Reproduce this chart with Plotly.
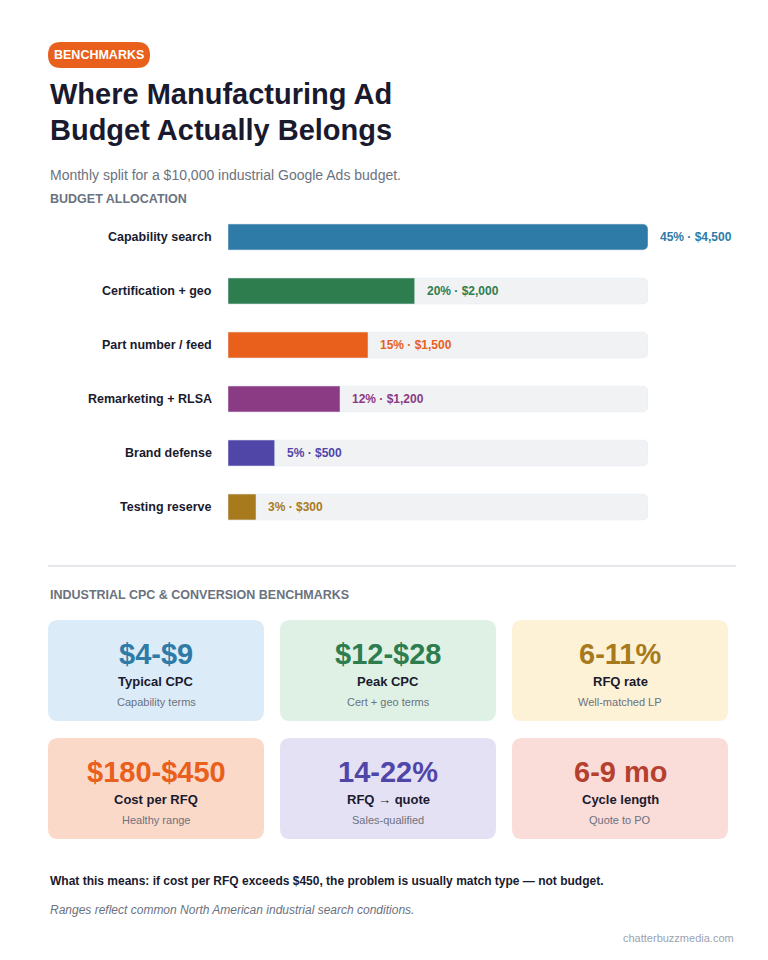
import plotly.graph_objects as go

categories = ["Capability search", "Certification + geo", "Part number / feed",
              "Remarketing + RLSA", "Brand defense", "Testing reserve"]
shares = [45, 20, 15, 12, 5, 3]
dollars = [4500, 2000, 1500, 1200, 500, 300]
bar_colors = ["#2d7ba6", "#2e7d4f", "#e8601c", "#8b3a84", "#5046a8", "#a87a1e"]

card_values = ["$4-$9", "$12-$28", "6-11%", "$180-$450", "14-22%", "6-9 mo"]
card_labels = ["Typical CPC", "Peak CPC", "RFQ rate", "Cost per RFQ", "RFQ → quote", "Cycle length"]
card_subs = ["Capability terms", "Cert + geo terms", "Well-matched LP", "Healthy range", "Sales-qualified", "Quote to PO"]
card_fg = ["#2d7ba6", "#2e7d4f", "#a87a1e", "#e8601c", "#5046a8", "#b5402e"]
card_bg = ["#dcebf8", "#dff1e5", "#fdf1d6", "#fbd9c9", "#e4e1f5", "#fadcd9"]

W, H = 768, 960
def X(x): return x / W
def Y(y): return 1 - y / H

FONT = "Liberation Sans, Arial, sans-serif"
fig = go.Figure()
track_max = max(shares)
fig.add_trace(go.Bar(y=categories, x=[track_max]*len(categories), orientation="h",
                     marker=dict(color="#f1f2f4"), width=0.48, hoverinfo="skip"))
fig.add_trace(go.Bar(y=categories, x=shares, orientation="h",
                     marker=dict(color=bar_colors), width=0.48))

ann = []
shapes = []
for c, s, d, col in zip(categories, shares, dollars, bar_colors):
    ann.append(dict(x=s, y=c, xref="x", yref="y", text=f"<b>{s}% · ${d:,}</b>",
                    showarrow=False, xanchor="left", xshift=10,
                    font=dict(size=12, color=col, family=FONT)))
    ann.append(dict(x=0, y=c, xref="x", yref="y", text=f"<b>{c}</b>",
                    showarrow=False, xanchor="right", xshift=-14,
                    font=dict(size=12.5, color="#1a1a2e", family=FONT)))

def rrect(x0, y0, x1, y1, r, fill):
    p = (f"M {X(x0+r)},{Y(y0)} L {X(x1-r)},{Y(y0)} Q {X(x1)},{Y(y0)} {X(x1)},{Y(y0+r)} "
         f"L {X(x1)},{Y(y1-r)} Q {X(x1)},{Y(y1)} {X(x1-r)},{Y(y1)} "
         f"L {X(x0+r)},{Y(y1)} Q {X(x0)},{Y(y1)} {X(x0)},{Y(y1-r)} "
         f"L {X(x0)},{Y(y0+r)} Q {X(x0)},{Y(y0)} {X(x0+r)},{Y(y0)} Z")
    return dict(type="path", xref="paper", yref="paper", path=p,
                fillcolor=fill, line=dict(width=0), layer="below")

def txt(x, y, t, size, color, anchor="left", bold=False, italic=False):
    if bold: t = f"<b>{t}</b>"
    if italic: t = f"<i>{t}</i>"
    ann.append(dict(x=X(x), y=Y(y), xref="paper", yref="paper", text=t, showarrow=False,
                    xanchor=anchor, yanchor="middle", font=dict(size=size, color=color, family=FONT)))

# header
shapes.append(rrect(40, 34, 142, 60, 13, "#e8601c"))
txt(91, 47, "BENCHMARKS", 12.5, "white", "center", bold=True)
txt(40, 86, "Where Manufacturing Ad", 29, "#1a1a2e", bold=True)
txt(40, 122, "Budget Actually Belongs", 29, "#1a1a2e", bold=True)
txt(40, 167, "Monthly split for a $10,000 industrial Google Ads budget.", 14, "#6b7280")
txt(40, 191, "BUDGET ALLOCATION", 12.5, "#6b7280", bold=True)
shapes.append(dict(type="line", xref="paper", yref="paper", x0=X(40), x1=X(728), y0=Y(558), y1=Y(558),
                   line=dict(color="#e5e7eb", width=2)))
txt(40, 587, "INDUSTRIAL CPC & CONVERSION BENCHMARKS", 12.5, "#6b7280", bold=True)

cols = [40, 272, 504]
rows = [612, 730]
for i in range(6):
    x0 = cols[i % 3]; y0 = rows[i // 3]
    shapes.append(rrect(x0, y0, x0 + 216, y0 + 101, 10, card_bg[i]))
    cx = x0 + 108
    txt(cx, y0 + 34, card_values[i], 29, card_fg[i], "center", bold=True)
    txt(cx, y0 + 61, card_labels[i], 13, "#1a1a2e", "center", bold=True)
    txt(cx, y0 + 82, card_subs[i], 11, "#6b7280", "center")

txt(40, 873, "What this means: if cost per RFQ exceeds $450, the problem is usually match type — not budget.", 12, "#1a1a2e", bold=True)
txt(40, 902, "Ranges reflect common North American industrial search conditions.", 12, "#6b7280", italic=True)
txt(728, 930, "chatterbuzzmedia.com", 11, "#9ca3af", "right")

fig.update_layout(
    width=W, height=H, margin=dict(l=0, r=0, t=0, b=0),
    paper_bgcolor="white", plot_bgcolor="white", showlegend=False,
    barmode="overlay", barcornerradius=5,
    xaxis=dict(domain=[X(220), X(640)], range=[0, track_max], visible=False, fixedrange=True),
    yaxis=dict(domain=[Y(526), Y(202)], autorange="reversed", visible=False, fixedrange=True),
    annotations=ann, shapes=shapes, font=dict(family=FONT),
)
fig.write_html("out.html")
